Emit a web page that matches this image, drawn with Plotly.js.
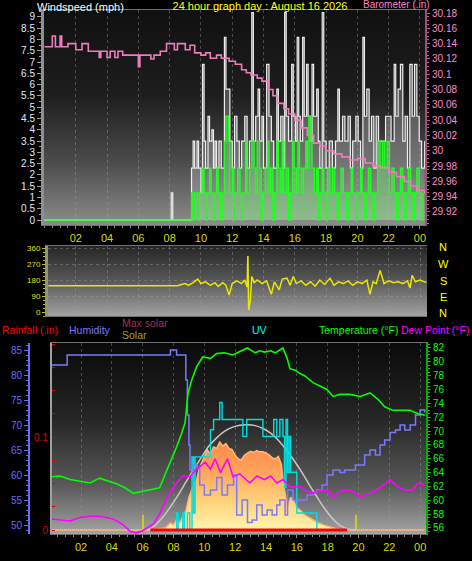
<!DOCTYPE html>
<html>
<head>
<meta charset="utf-8">
<script src="https://cdn.plot.ly/plotly-3.0.1.min.js"></script>
<style>html,body{margin:0;padding:0;background:#000;}#chart{width:472px;height:561px;}</style>
</head>
<body>
<div id="chart"></div>
<script>
// ---------- DATA ----------
const hourTicks = [2,4,6,8,10,12,14,16,18,20,22,24];
const hourLabels = ['02','04','06','08','10','12','14','16','18','20','22','00'];

const windTicks = [0,0.5,1,1.5,2,2.5,3,3.5,4,4.5,5,5.5,6,6.5,7,7.5,8,8.5,9];
const windLabels = ['0','0.5','1','1.5','2','2.5','3','3.5','4','4.5','5','5.5','6','6.5','7','7.5','8','8.5','9'];
const baroTicks = [29.92,29.94,29.96,29.98,30,30.02,30.04,30.06,30.08,30.1,30.12,30.14,30.16,30.18];
const baroLabels = ['29.92','29.94','29.96','29.98','30','30.02','30.04','30.06','30.08','30.1','30.12','30.14','30.16','30.18'];
const dirTicks = [0,90,180,270,360];
const humTicks = [50,55,60,65,70,75,80,85];
const tempTicks = [56,58,60,62,64,66,68,70,72,74,76,78,80,82];
const rainTicks = [0,0.1];
const rainLabels = ['0','0.1'];

// Wind gust (mph)
const gustT = [0,8.1,8.2,9.4,9.5,9.6,9.75,9.85,10.0,10.1,
  10.2,10.3,10.45,10.55,10.7,10.8,10.9,11.0,11.15,11.3,
  11.5,11.6,11.85,12.0,12.15,12.3,12.45,12.6,12.8,12.95,
  13.1,13.25,13.35,13.5,13.65,13.75,13.9,14.0,14.2,14.35,
  14.5,14.65,14.85,14.95,15.1,15.25,15.35,15.45,15.6,15.8,
  15.9,16.05,16.15,16.25,16.35,16.5,16.6,16.75,16.85,17.0,
  17.1,17.2,17.4,17.5,17.6,17.75,17.85,18.0,18.2,18.4,
  18.6,18.75,18.85,19.05,19.2,19.4,19.55,19.7,19.9,20.05,
  20.2,20.35,20.45,20.6,20.75,20.9,21.05,21.2,21.35,21.5,
  21.65,21.8,22.0,22.15,22.35,22.45,22.6,22.75,22.9,23.05,
  23.2,23.35,23.5,23.65,23.8,23.95,24.1,24.3];
const gustV = [0,1.2,0,2.3,3.5,2.3,3.5,2.3,1.2,6.9,
  3.5,2.3,4.6,3.5,4.0,2.3,3.5,2.3,3.5,2.3,
  8.1,5.8,3.5,2.3,4.6,3.5,2.3,3.5,4.6,2.3,
  3.5,9.2,3.5,4.6,5.8,3.5,4.6,2.3,6.9,4.6,
  3.5,2.3,5.8,3.5,4.6,2.3,9.2,4.6,3.5,6.9,
  4.6,3.5,8.1,4.6,3.5,8.1,4.6,6.9,4.6,3.5,
  6.9,4.6,5.8,3.5,2.3,9.2,3.5,2.3,3.5,2.3,
  3.5,5.8,3.5,4.6,3.5,4.6,2.3,3.5,4.6,3.5,
  2.3,8.1,4.6,5.8,3.5,4.6,2.3,4.6,3.5,3.5,
  3.5,4.6,4.6,3.5,6.9,4.6,5.8,6.9,3.5,4.6,
  2.3,6.9,4.6,6.9,4.6,3.5,2.3,3.5];

// Wind speed (mph)
const windT = [0,9.4,9.5,9.6,9.8,9.9,10.1,10.2,10.3,10.4,
  10.55,10.65,10.8,10.9,11.0,11.1,11.25,11.35,11.5,11.6,
  11.75,11.85,12.0,12.1,12.2,12.35,12.5,12.6,12.7,12.85,
  12.95,13.1,13.25,13.4,13.5,13.6,13.75,13.85,13.95,14.1,
  14.25,14.35,14.45,14.6,14.7,14.85,14.95,15.1,15.2,15.3,
  15.45,15.6,15.7,15.85,15.95,16.1,16.2,16.3,16.45,16.55,
  16.7,16.8,16.9,17.0,17.1,17.25,17.4,17.5,17.6,17.75,
  17.85,18.0,18.1,18.25,18.4,18.55,18.7,18.8,18.95,19.1,
  19.3,19.4,19.6,19.7,19.9,20.0,20.2,20.3,20.45,20.55,
  20.7,20.85,21.0,21.1,21.3,21.45,21.6,21.75,21.9,22.05,
  22.2,22.35,22.5,22.6,22.75,22.9,23.0,23.1,23.25,23.4,
  23.55,23.65,23.8,23.95,24.1,24.2];
const windV = [0,1.2,0,1.2,0,1.2,2.3,1.2,0,1.2,
  2.3,1.2,0,1.2,2.3,1.2,0,1.2,3.5,4.6,
  3.5,1.2,2.3,0,1.2,2.3,1.2,0,1.2,3.5,
  1.2,2.3,3.5,2.3,1.2,3.5,2.3,0,1.2,2.3,
  3.5,1.2,2.3,0,1.2,3.5,2.3,1.2,3.5,1.2,
  2.3,0,1.2,3.5,2.3,1.2,3.5,2.3,1.2,2.3,
  3.5,2.3,4.6,3.5,2.3,1.2,2.3,0,1.2,2.3,
  1.2,0,2.3,1.2,2.3,1.2,0,1.2,2.3,1.2,
  0,1.2,2.3,1.2,0,1.2,2.3,1.2,0,1.2,
  2.3,1.2,0,1.2,3.5,2.3,3.5,2.3,3.5,1.2,
  2.3,1.2,0,1.2,2.3,1.2,0,1.2,2.3,1.2,
  0,1.2,2.3,1.2,0,1.2];

// Barometer (in)
const baroT = [0,0.5,0.7,1.0,1.1,1.5,2.0,2.4,2.8,3.5,
  3.6,4.0,4.2,4.5,4.7,5.0,5.2,6.0,6.1,6.8,
  7.0,7.4,7.8,8.3,8.5,9.0,9.3,9.6,10.0,10.3,
  10.6,11.0,11.3,11.8,12.2,12.6,12.9,13.2,13.6,13.9,
  14.3,14.6,14.9,15.3,15.6,16.0,16.4,16.8,17.2,17.6,
  18.0,18.5,19.0,19.5,20.0,20.5,21.0,21.5,22.0,22.5,
  23.0,23.4,23.8,24.3];
const baroV = [30.136,30.15,30.136,30.15,30.136,30.14,30.132,30.14,30.13,30.122,
  30.13,30.122,30.13,30.122,30.13,30.125,30.125,30.11,30.125,30.12,
  30.125,30.13,30.14,30.132,30.14,30.132,30.138,30.128,30.125,30.128,
  30.121,30.125,30.121,30.117,30.113,30.106,30.102,30.099,30.095,30.091,
  30.08,30.072,30.062,30.055,30.048,30.04,30.03,30.02,30.01,30.006,
  30.0,29.996,29.992,29.988,29.99,29.984,29.98,29.978,29.972,29.966,
  29.96,29.954,29.948,29.944];

// Wind direction (deg)
const dirT = [0.25,8.5,8.7,9.0,9.2,9.5,9.8,10.0,10.3,10.6,
  10.9,11.1,11.4,11.6,11.8,12.0,12.3,12.6,12.8,12.95,
  13.0,13.05,13.15,13.25,13.4,13.6,13.9,14.2,14.5,14.7,
  15.0,15.2,15.5,15.7,15.9,16.1,16.4,16.7,17.0,17.3,
  17.6,17.9,18.25,18.5,18.8,19.1,19.4,19.7,20.0,20.3,
  20.6,20.8,21.0,21.2,21.45,21.7,22.0,22.3,22.6,22.9,
  23.2,23.36,23.5,23.7,24.0,24.4];
const dirV = [148,148,153,160,150,165,185,160,170,150,
  165,144,165,150,95,160,175,160,180,140,
  315,10,60,200,165,180,160,175,100,170,
  125,185,190,150,200,160,175,150,170,145,
  180,155,190,150,170,160,175,150,170,160,
  180,99,170,160,234,160,175,165,170,160,
  175,135,207,170,180,165];

// Humidity (%)
const humT = [0.1,1.1,7.8,8.2,8.8,8.9,9.0,9.07,9.3,9.53,
  9.7,10.0,10.4,10.8,11.15,11.5,11.9,12.1,12.45,12.8,
  13.1,13.4,13.75,14.07,14.4,14.7,14.9,15.24,15.4,15.75,
  16.2,16.66,17.05,17.3,17.64,17.96,18.35,18.8,19.1,19.45,
  19.8,20.1,20.4,20.75,21.1,21.4,21.7,22.05,22.4,22.7,
  23.0,23.35,23.7,24.0,24.3];
const humV = [82,84,85,84,79,72,66,61,62,61.5,
  58,56,57,59.5,56,58,60,52,55,50.5,
  51,54,52,53,52,54,55,52,57,55,
  55,56,56.5,57,58,60,61,60.5,61,61,
  62,62,64,65,64,66,67,68.5,69,70,
  69,70,72,73,72.5];

// Temperature (F)
const tempT = [0.1,0.64,1.3,1.9,2.6,3.2,3.9,4.3,4.85,5.4,
  5.8,6.5,7.1,7.6,7.9,8.2,8.5,8.75,8.94,9.2,
  9.5,9.9,10.4,10.8,11.3,11.86,12.3,12.8,13.3,13.6,
  13.9,14.3,14.6,14.9,15.1,15.37,15.56,15.9,16.2,16.5,
  17.05,17.5,17.96,18.35,18.8,19.45,20.1,20.75,21.3,21.7,
  22.2,22.7,23.35,23.87,24.3];
const tempV = [63.4,63.5,63,62.8,62.5,63.2,62.7,62.4,61.8,61,
  61.2,61.5,61.8,64.5,66,67.7,69.5,71.2,75.5,77.5,
  79.3,80.7,80.5,81.2,81.3,81,81.5,82,81.3,81.6,
  81.4,81.6,81.3,81.7,82,80.5,79,78.8,78.3,78,
  77,76.5,76,75,75.3,75.3,75,75.5,74.5,73.5,
  73,73,73,72.5,72.3];

// Dew point (F)
const dewT = [0.1,1.3,1.9,2.6,3.2,4.1,4.7,5.2,5.6,6.0,
  6.7,7.1,7.6,7.9,8.2,8.6,9.07,9.4,9.7,10.05,
  10.4,10.7,11.05,11.5,11.86,12.3,12.95,13.4,13.9,14.3,
  14.7,15.1,15.56,16.2,16.66,17.05,17.5,17.96,18.35,18.8,
  19.45,20.1,20.75,21.4,22.05,22.5,23.0,23.5,23.87,24.3];
const dewV = [57.3,57,57.5,57.7,57.7,57.3,56.5,55.5,55.3,55.6,
  56.6,58,60.5,61.5,62.5,63.5,63.4,64.3,64.8,65.5,
  64.5,66,64,66,63.4,63.8,62.5,63.5,63,63.5,
  62.5,63,61.9,62,61.3,61,61.4,61.5,60.5,61.3,
  61.5,60.5,61,61.8,63,62,61.5,61.5,62.5,62.2];

// Solar (W/m2) and max solar
const solarT = [0.1,6.5,7.0,7.5,7.8,8.0,8.2,8.4,8.6,8.8,
  9.0,9.2,9.5,9.7,9.9,10.2,10.4,10.6,10.8,11.0,
  11.2,11.4,11.6,11.8,12.0,12.2,12.4,12.6,12.8,13.0,
  13.2,13.4,13.6,13.8,14.0,14.2,14.4,14.6,14.8,15.0,
  15.1,15.2,15.4,15.6,15.8,16.0,16.2,16.5,16.8,17.1,
  17.4,17.8,18.2,18.5,18.8,24.3];
const solarV = [0,0,8,20,60,40,90,60,110,160,
  280,350,430,540,600,686,650,711,700,754,
  720,740,700,690,640,610,600,640,660,675,
  665,680,670,670,660,645,620,610,630,560,
  420,343,197,280,250,190,171,130,105,80,
  60,40,26,15,0,0];
const maxSolarT = [6.3,6.8,7.3,7.8,8.3,8.8,9.3,9.8,10.3,10.8,11.3,11.8,12.3,12.8,
  13.3,13.8,14.3,14.8,15.3,15.8,16.3,16.8,17.3,17.8,18.3,18.8,19.3,19.8];
const maxSolarV = [0,40,110,200,300,410,520,620,720,790,845,880,898,902,
  895,870,830,770,690,600,500,390,285,185,100,40,10,0];

// UV index
const uvT = [8.15,8.2,8.3,8.6,8.7,8.9,9.05,9.2,9.3,9.4,
  10.4,10.6,11.0,11.15,12.5,12.75,13.8,14.5,14.7,14.9,
  15.1,15.2,15.3,15.4,15.5,15.6,16.0,17.3];
const uvV = [0,1,0,1,0,1,0,4.3,1,4.3,
  5.9,6.5,7.5,6.5,5.5,6.5,5.5,6.5,5.5,6.5,
  5.5,2.5,6.5,3.4,5.5,3.4,1,0];

// Rainfall (in)
const rainT = [6.5,19.26];
const rainV = [0,0];

// Sunrise / sunset markers (hours)
const sunEvents = [6.02,19.84];
const sunMarkHeight = 130;

// ---------- LAYOUT HELPERS ----------
const W = 472, H = 561;
const FONT = 'Liberation Sans, Arial, sans-serif';
const px = x => x / W;
const py = y => 1 - y / H;

function gradImg(stops, x0, y0, x1, y1) {
  const svg = '<svg xmlns="http://www.w3.org/2000/svg" width="10" height="100" preserveAspectRatio="none">' +
    '<defs><linearGradient id="g" x1="0" y1="0" x2="0" y2="1">' +
    stops.map(s => '<stop offset="' + s[0] + '" stop-color="' + s[1] + '"/>').join('') +
    '</linearGradient></defs><rect x="0" y="0" width="10" height="100" fill="url(#g)"/></svg>';
  return {
    source: 'data:image/svg+xml;charset=utf-8,' + encodeURIComponent(svg),
    xref: 'paper', yref: 'paper', x: px(x0), y: py(y0),
    sizex: (x1 - x0) / W, sizey: (y1 - y0) / H,
    sizing: 'stretch', xanchor: 'left', yanchor: 'top', layer: 'below'
  };
}

const sunX = [], sunY = [];
sunEvents.forEach(t => { sunX.push(t, t, null); sunY.push(0, sunMarkHeight, null); });

// ---------- TRACES ----------
const traces = [
  {x: gustT, y: gustV, xaxis: 'x', yaxis: 'y', mode: 'lines', hoverinfo: 'skip',
   line: {shape: 'hv', color: '#eeeeee', width: 1.2}, fill: 'tozeroy', fillcolor: 'rgba(200,200,200,0.32)'},
  {x: windT, y: windV, xaxis: 'x', yaxis: 'y', mode: 'lines', hoverinfo: 'skip',
   line: {shape: 'hv', color: '#22ff22', width: 1.3}, fill: 'tozeroy', fillcolor: 'rgba(110,255,110,0.33)'},
  {x: baroT, y: baroV, xaxis: 'x', yaxis: 'y2', mode: 'lines', hoverinfo: 'skip',
   line: {shape: 'hv', color: '#f07cbc', width: 1.6}},

  {x: dirT, y: dirV, xaxis: 'x2', yaxis: 'y3', mode: 'lines', hoverinfo: 'skip',
   line: {color: '#e8e800', width: 1.5}},

  {x: solarT, y: solarV, xaxis: 'x3', yaxis: 'y4', mode: 'lines', hoverinfo: 'skip',
   line: {color: '#ffb878', width: 1.5}, fill: 'tozeroy',
   fillgradient: {type: 'vertical', start: 0, stop: 720,
     colorscale: [[0, '#fff6b0'], [0.35, '#ffd27a'], [0.7, '#ffa45a'], [1, '#ff8c4c']]}},
  {x: maxSolarT, y: maxSolarV, xaxis: 'x3', yaxis: 'y4', mode: 'lines', hoverinfo: 'skip',
   line: {color: '#c8c8c8', width: 1.5, shape: 'spline'}},
  {x: sunX, y: sunY, xaxis: 'x3', yaxis: 'y4', mode: 'lines', hoverinfo: 'skip',
   line: {color: '#e0e000', width: 1.5}},
  {x: uvT, y: uvV, xaxis: 'x3', yaxis: 'y5', mode: 'lines', hoverinfo: 'skip',
   line: {shape: 'hv', color: '#00dede', width: 1.4}},
  {x: humT, y: humV, xaxis: 'x3', yaxis: 'y6', mode: 'lines', hoverinfo: 'skip',
   line: {shape: 'hv', color: '#7a7aff', width: 1.5}},
  {x: dewT, y: dewV, xaxis: 'x3', yaxis: 'y7', mode: 'lines', hoverinfo: 'skip',
   line: {color: '#ff00ff', width: 1.6}},
  {x: tempT, y: tempV, xaxis: 'x3', yaxis: 'y7', mode: 'lines', hoverinfo: 'skip',
   line: {color: '#00ff00', width: 1.6}},
  {x: rainT, y: rainV, xaxis: 'x3', yaxis: 'y8', mode: 'lines', hoverinfo: 'skip',
   line: {color: '#ff0000', width: 3}}
];

const gridDot = {showgrid: true, gridcolor: 'rgba(160,160,160,0.4)', griddash: 'dot', gridwidth: 1};
const hidden = {showticklabels: false, ticks: '', showgrid: false, zeroline: false, showline: false, fixedrange: true};
const timeAxis = (dom, rng, anchor, labels) => Object.assign({
  domain: dom, range: rng, anchor: anchor, tickmode: 'array', tickvals: hourTicks, ticktext: hourLabels,
  showticklabels: labels, tickfont: {family: FONT, size: 11, color: '#d8d800'},
  ticks: labels ? 'outside' : '', ticklen: 3, tickcolor: '#909090',
  minor: labels ? {tickmode: 'linear', tick0: 0, dtick: 0.5, ticks: 'outside', ticklen: 2, tickcolor: '#909090'} : {},
  showline: true, linecolor: '#707070', linewidth: 1, mirror: true, zeroline: false, fixedrange: true
}, gridDot);

const layout = {
  width: W, height: H, autosize: false,
  margin: {l: 0, r: 0, t: 0, b: 0, pad: 0},
  paper_bgcolor: '#000000', plot_bgcolor: 'rgba(0,0,0,0)',
  showlegend: false,
  font: {family: FONT, color: '#ffffff'},
  title: {text: '24 hour graph day : August 16 2026', x: px(260), xanchor: 'center', xref: 'paper',
          y: py(6.5), yanchor: 'middle', yref: 'paper', font: {family: FONT, size: 11, color: '#ffff00'}},

  xaxis: timeAxis([px(44), px(425)], [-0.03, 24.32], 'y', true),
  yaxis: {domain: [py(225), py(10)], range: [-0.22, 9.31], anchor: 'x', side: 'left',
    tickmode: 'array', tickvals: windTicks, ticktext: windLabels,
    tickfont: {family: FONT, size: 10, color: '#e2e8ff'}, ticks: 'outside', ticklen: 4, tickcolor: '#a0a0a0',
    minor: {tickmode: 'linear', tick0: 0, dtick: 0.25, ticks: 'outside', ticklen: 2, tickcolor: '#a0a0a0'},
    showline: true, linecolor: '#909090', linewidth: 3, showgrid: false, zeroline: false, fixedrange: true},
  yaxis2: {overlaying: 'y', side: 'right', anchor: 'x', range: [29.903, 30.184],
    tickmode: 'array', tickvals: baroTicks, ticktext: baroLabels,
    tickfont: {family: FONT, size: 10, color: '#ff8cc8'}, ticks: 'outside', ticklen: 3, tickcolor: '#c06090',
    minor: {tickmode: 'linear', tick0: 29.92, dtick: 0.005, ticks: 'outside', ticklen: 2, tickcolor: '#c06090'},
    showline: true, linecolor: '#a05078', linewidth: 2, showgrid: false, zeroline: false, fixedrange: true},
  yaxis9: Object.assign({overlaying: 'y', anchor: 'x', range: [-0.22, 9.31], tickmode: 'linear', tick0: 0, dtick: 1},
    hidden, gridDot),

  xaxis2: timeAxis([px(48), px(427)], [0.23, 24.445], 'y3', false),
  yaxis3: Object.assign({domain: [py(316), py(246)], range: [-22.5, 371.25], anchor: 'x2',
    tickmode: 'array', tickvals: dirTicks,
    tickfont: {family: FONT, size: 8, color: '#e0e000'}, ticks: 'outside', ticklen: 3, tickcolor: '#c0c000',
    minor: {tickmode: 'linear', tick0: 0, dtick: 22.5, ticks: 'outside', ticklen: 2, tickcolor: '#c0c000'},
    showline: true, linecolor: '#909090', linewidth: 3, zeroline: false, fixedrange: true}, gridDot),

  xaxis3: timeAxis([px(52), px(426)], [0.117, 24.38], 'y4', true),
  yaxis4: Object.assign({domain: [py(534), py(343)], range: [-34, 1603], anchor: 'x3'}, hidden),
  yaxis5: Object.assign({overlaying: 'y4', anchor: 'x3', range: [-0.235, 11]}, hidden),
  yaxis6: {overlaying: 'y4', anchor: 'free', position: px(29), side: 'left', range: [48.2, 86.4],
    tickmode: 'array', tickvals: humTicks,
    tickfont: {family: FONT, size: 10, color: '#6a6aff'}, ticks: 'outside', ticklen: 4, tickcolor: '#6a6aff',
    minor: {tickmode: 'linear', tick0: 50, dtick: 1, ticks: 'outside', ticklen: 2, tickcolor: '#6a6aff'},
    showline: true, linecolor: '#6a6aff', linewidth: 2, showgrid: false, zeroline: false, fixedrange: true},
  yaxis7: {overlaying: 'y4', anchor: 'x3', side: 'right', range: [55.13, 82.72],
    tickmode: 'array', tickvals: tempTicks,
    tickfont: {family: FONT, size: 10, color: '#00ff00'}, ticks: 'outside', ticklen: 3, tickcolor: '#00c000',
    minor: {tickmode: 'linear', tick0: 56, dtick: 0.5, ticks: 'outside', ticklen: 2, tickcolor: '#00c000'},
    showline: true, linecolor: '#00b000', linewidth: 2, showgrid: false, zeroline: false, fixedrange: true},
  yaxis8: {overlaying: 'y4', anchor: 'x3', side: 'left', range: [-0.0043, 0.2011],
    tickmode: 'array', tickvals: rainTicks, ticktext: rainLabels,
    tickfont: {family: FONT, size: 10, color: '#dd0000'}, ticks: 'inside', ticklen: 3, tickcolor: '#dd0000',
    minor: {tickmode: 'linear', tick0: 0, dtick: 0.025, ticks: 'inside', ticklen: 3, tickcolor: '#dd0000'},
    showline: true, linecolor: '#a0a0a0', linewidth: 2, showgrid: false, zeroline: false, fixedrange: true},

  images: [
    gradImg([[0, '#101010'], [0.4, '#1e1e1e'], [0.7, '#4a4a4a'], [1, '#8c8c8c']], 44, 10, 425, 225),
    gradImg([[0, '#262626'], [0.5, '#585858'], [1, '#a2a2a2']], 48, 246, 427, 316),
    gradImg([[0, '#0a0a0a'], [0.4, '#262626'], [0.75, '#5a5a5a'], [1, '#a4a4a4']], 52, 343, 426, 534)
  ],

  annotations: [
    {text: 'Windspeed (mph)', x: px(35), y: py(6.5), color: '#ffffff'},
    {text: 'Barometer (.in)', x: px(361), y: py(5), color: '#ff80c0', size: 10},
    {text: 'N', x: px(443), y: py(247), color: '#ffff00', center: true},
    {text: 'W', x: px(443), y: py(264), color: '#ffff00', center: true},
    {text: 'S', x: px(443), y: py(281), color: '#ffff00', center: true},
    {text: 'E', x: px(443), y: py(297), color: '#ffff00', center: true},
    {text: 'N', x: px(443), y: py(313), color: '#ffff00', center: true},
    {text: 'Rainfall (.in)', x: px(0), y: py(330), color: '#ff0000', size: 10.5},
    {text: 'Humidity', x: px(67), y: py(330), color: '#7a7aff', size: 10.5},
    {text: 'Max solar', x: px(120), y: py(323), color: '#b02858', size: 10.5},
    {text: 'Solar', x: px(120), y: py(335), color: '#a0a028', size: 10.5},
    {text: 'UV', x: px(250), y: py(330), color: '#00ffff', size: 10.5},
    {text: 'Temperature (°F)', x: px(317), y: py(330), color: '#00ff00', size: 10.5},
    {text: 'Dew Point (°F)', x: px(399), y: py(330), color: '#ff00ff', size: 10.5}
  ].map(a => ({text: a.text, x: a.x, y: a.y, xref: 'paper', yref: 'paper', showarrow: false,
    xanchor: a.center ? 'center' : 'left', yanchor: 'middle',
    font: {family: FONT, size: a.size || 11, color: a.color}}))
};

Plotly.newPlot('chart', traces, layout, {staticPlot: true, displayModeBar: false});
</script>
</body>
</html>
